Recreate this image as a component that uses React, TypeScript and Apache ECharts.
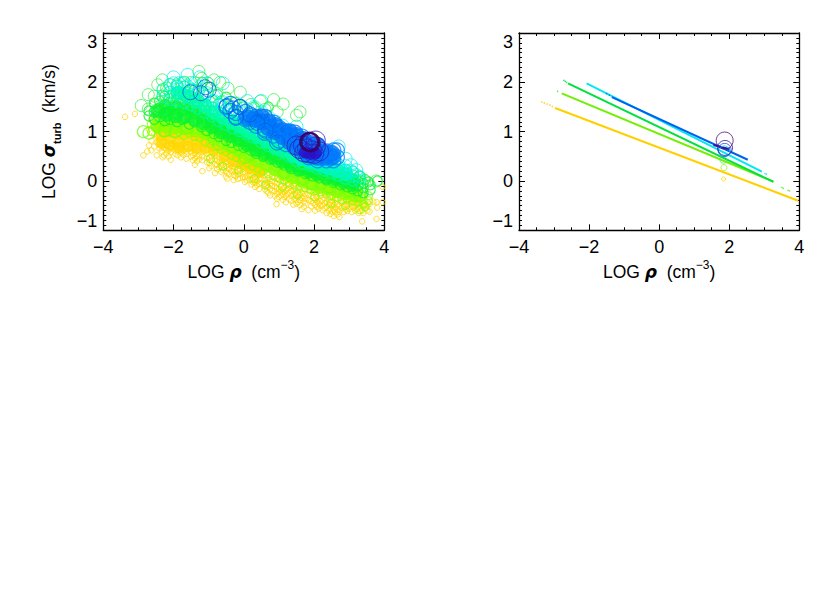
import React, { useEffect, useRef } from "react";
import * as echarts from "echarts";

// Each row: x followed by the y values read at that x
const yellowRings = [
[-3.38,1.3],[-3.1,1.36],[-2.86,.52],[-2.75,.6],[-2.63,.62,.82,1.25],[-2.55,.7,.95,1.1],[-2.48,.52,.78,.9,1.02],[-2.4,.66,.74,.86,1.12],[-2.34,.6,.7,.96,1.2],[-2.31,.48,.8],[-2.2,.56,.64,.72,.9,1.04],[-2.08,.43,.58,.66,.76],[-1.95,.55,.62,.7,.92],[-1.79,.48,.57,.64,.72],[-1.63,.45,.55,.6,.68],[-1.5,.5,.58,.66,1.0],[-1.39,.33,.46,.55,.62,.7],[-1.27,.44,.52,.6,.78],[-1.18,.2,.42,.5,.58,.66],[-1.05,.38,.47,.56,.64,.72],[-.92,.3,.42,.5,.58,.66],[-.82,.16,.34,.44,.52,.6],[-.7,.28,.38,.46,.54,.62],[-.6,.22,.32,.4,.5,.58],[-.51,.09,.2,.3,.38,.46,.54],
[-.42,.14,.24,.33,.42,.5],[-.33,.2,.29,.37,.46,.56],[-.24,.1,.18,.27,.34,.44],[-.11,.06,.15,.24,.31,.4,.5],[-.02,.08,.18,.26,.35,.44],[.08,.01,.1,.2,.28,.36],[.17,.03,.12,.21,.3,.39],[.27,-.03,.06,.14,.23,.33],[.38,-.09,0,.09,.19,.27],[.5,-.05,.04,.13,.22,.3],[.6,-.17,-.07,.02,.11,.2],[.7,-.24,-.12,-.03,.06,.16],[.8,-.19,-.1,0,.09,.18],[.88,-.3,-.21,-.11,-.02,.07],[.95,-.36,-.26,-.14,-.05,.04],[.93,-.47],
[1.05,-.29,-.2,-.1,-.01,.08],[1.15,-.32,-.22,-.13,-.04,.05],[1.24,-.27,-.17,-.08,.01],[1.35,-.4,-.3,-.2,-.11,-.02],[1.45,-.36,-.24,-.15,-.06,.02],[1.55,-.43,-.33,-.23,-.14,-.04],[1.65,-.57,-.34,-.25,-.16,-.07],[1.75,-.45,-.36,-.26,-.17,-.09],[1.84,-.59,-.38,-.28,-.19,-.1],[1.98,-.45,-.34,-.24,-.15,-.06],[2.08,-.52,-.42,-.33,-.23,-.14],[2.18,-.5,-.41,-.3,-.2,-.12],[2.3,-.55,-.45,-.35,-.26,-.17],[2.42,-.6,-.49,-.38,-.28,-.19],[2.52,-.62,-.5,-.4,-.3,-.22],[2.6,-.63,-.54,-.44,-.34,-.25],[2.67,-.68,-.58,-.47,-.37,-.27],[2.78,-.55,-.44,-.35,-.26],[2.9,-.58,-.48,-.38,-.29],[3.0,-.56,-.46,-.36],[3.12,-.54,-.45,-.37],[3.22,-.57,-.48,-.39],[3.32,-.53,-.44,-.36],[3.37,-.82,-.6],[3.4,-.65,-.5,-.41],[3.52,-.6,-.5,-.43],[3.69,-.42],[3.78,-.77,-.43],[3.8,-.54],[3.95,-.12,-.43]
];
const yellowExtra = [
[-2.7,.72,1.05],[-2.27,.52,.67],[-2.14,.5,.62],[-1.88,.52,.6],[-1.72,.53,.61],[-1.45,.42,.52],[-1.33,.4,.5],[-.98,.26,.36,.48],[-.76,.24,.33,.41],[-.64,.18,.3,.36],[-.47,.05,.16,.27],[-.29,.02,.12,.24],[-.17,.04,.13,.22],[.03,-.02,.07,.15],[.22,-.07,.02,.11],[.32,-.12,-.04,.08],[.44,-.16,-.06,.05],[.65,-.21,-.1,-.03],[.75,-.29,-.16,-.06],[1.0,-.32,-.23,-.16],[1.11,-.38,-.27,-.17],[1.2,-.43,-.3,-.19],[1.29,-.37,-.24,-.14],[1.41,-.48,-.27,-.18],[1.5,-.46,-.38,-.29],[1.6,-.49,-.39,-.28],[1.71,-.52,-.41,-.31],[1.92,-.51,-.41,-.31],[2.03,-.6,-.48,-.38],[2.13,-.56,-.46,-.37],[2.24,-.59,-.5,-.39],[2.36,-.65,-.52,-.42],[2.47,-.67,-.56,-.44],[2.56,-.71,-.58,-.48],[2.72,-.73,-.62,-.51],[2.84,-.63,-.52,-.41],[2.95,-.61,-.5,-.42],[3.07,-.63,-.51,-.41],[3.17,-.6,-.52,-.43],[3.27,-.65,-.52,-.42],[3.46,-.56,-.47],[3.58,-.62,-.47]
];
const yellowCore = [
[-2.35,.78,.92,1.06],[-2.1,.72,.86,1],[-1.85,.68,.8,.95],[-1.6,.7,.83,.96],[-1.35,.67,.8,.93],[-1.1,.66,.78,.9],[-.85,.62,.72],[-.55,.5,.62],[-.3,.4,.52],[-.05,.34,.42],[.2,.26,.32],[.45,.18,.22]
];
const limeRings = [
[-2.63,1.0,1.15],[-2.55,1.22],[-2.45,1.05,1.16,1.26],[-2.3,.98,1.08,1.2],[-2.15,1.0,1.14,1.26],[-2.0,.96,1.07,1.2],[-1.85,1.0,1.12,1.24],[-1.7,.92,1.05,1.18],[-1.55,.97,1.1,1.22],[-1.4,.9,1.02,1.14],[-1.25,.88,1.0,1.12],[-1.1,.8,.93,1.06],[-.95,.76,.88,1.0,1.1],[-.8,.7,.84,.96],[-.65,.64,.76,.88],[-.5,.6,.7,.82,.92],[-.35,.52,.63,.75,.88],[-.2,.48,.58,.7,.82],[-.05,.42,.54,.66,.77],[.1,.36,.48,.58,.7],[.25,.3,.42,.54,.66],[.4,.26,.38,.48,.6],[.55,.2,.32,.44,.54],[.7,.14,.26,.38,.48],[.85,.1,.22,.32,.42],[1.0,.06,.18,.28,.38],[1.15,.02,.12,.24,.34],[1.3,-.04,.08,.18,.3],[1.45,-.08,.04,.14,.24],[1.6,-.1,0,.1,.2],[1.75,-.14,-.04,.06,.16],[1.9,-.17,-.07,.03,.12],[2.05,-.2,-.1,0,.08],[2.2,-.22,-.12,-.03,.05],[2.35,-.26,-.16,-.06,.03],[2.5,-.3,-.2,-.1,-.01],[2.65,-.33,-.24,-.14,-.05],[2.8,-.38,-.28,-.18,-.08],[2.95,-.36,-.27,-.18,-.1],[3.1,-.4,-.3,-.22,-.13],[3.25,-.42,-.33,-.24,-.16],[3.4,-.47,-.38,-.3,-.2],[3.55,-.4,-.3],[3.45,-.52],
[-.95,.45],[-.6,.3],[-.15,.22],[.3,.05],[.62,-.08],[1.1,-.12],[1.52,-.28],[2.02,-.32],[2.48,-.45],[2.9,-.5],[3.3,-.58]
];
const limeLarge = [
[-2.86,1.0],[-2.7,.97],[-1.95,1.0],[-1.6,1.08],[-1.1,1.05],[-.85,.85],[-.4,.98],[-.3,.7],[.2,.55],[.55,.52],[.95,.32],[1.4,.2],[1.7,.05],[2.2,-.05],[2.7,-.15],[-2.25,1.02],[-.7,.75],[.05,.48],[1.15,.18],[1.95,-.05],[2.45,-.12],[3.0,-.2],[3.3,-.3]
];
const limeCore = [
[-2.45,1.12],[-2.2,1.12],[-1.95,1.1],[-1.7,1.08],[-1.4,1.04],[-1.1,.98],[-.85,.9],[-.6,.8],[-.35,.7],[-.1,.62],[.15,.52],[.4,.42],[.65,.34],[.9,.25],[1.15,.16],[1.4,.09],[1.65,.02],[1.9,-.04],[2.15,-.1],[2.4,-.15],[2.65,-.2],[2.9,-.24],[3.15,-.28]
];
const greenRings = [
[-2.7,1.42,1.32],[-2.55,1.25,1.4,1.58],[-2.4,1.3,1.48,1.62],[-2.25,1.22,1.38,1.55,1.72],[-2.1,1.25,1.42,1.6],[-1.9,1.2,1.35,1.52,1.68],[-1.75,1.25,1.42,1.6],[-1.55,1.15,1.3,1.47,1.63],[-1.4,1.2,1.36,1.52],[-1.2,1.1,1.25,1.42],[-1.05,1.02,1.17,1.33],[-.85,.96,1.1,1.25],[-.7,.9,1.04,1.18],[-.5,.82,.96,1.1],[-.35,.78,.9,1.02],[-.15,.72,.85,.98],[0,.68,.8,.94],[.2,.62,.74,.86],[.35,.56,.68,.8],[.55,.5,.62,.74],[.75,.44,.56,.68],[.95,.38,.5,.6],[1.15,.32,.42,.54],[1.35,.25,.36,.47],[1.55,.2,.3,.4],[1.75,.15,.24,.34],[1.95,.1,.2,.3],[2.15,.06,.15,.25],[2.35,.02,.11,.2],[2.55,-.03,.06,.16],[2.75,-.08,.02,.12],[2.95,-.12,-.02,.08],[3.1,-.16,-.06,.04],[3.25,-.2,-.1,0],[3.4,-.24,-.14,-.05],[3.6,-.18,-.08],[3.8,0],
[-1.65,1.72],[-1.4,1.85],[-1.18,2.0],[-.95,1.9],[-.75,1.75],[-.5,1.7],[-.25,1.6],[-.02,1.5],[.3,1.5],[.7,1.5],[3.3,.1],[3.45,.03],[3.55,-.02]
];
const greenLarge = [
[-2.92,1.53],[-2.72,1.46],[-2.72,1.75],[-2.45,1.95],[-2.32,2.05],[-2.1,1.7],[-1.9,1.95],[-1.5,2.0],[-.85,2.05],[-.68,2.0],[-.1,1.8],[.47,1.62],[.85,1.65],[1.12,1.56],[1.5,1.33],[1.6,1.4],[.6,1.45],[.95,1.4],[.2,1.55],[3.77,0],[-.65,1.6],[-.4,1.45],[-1.85,1.3],[-1.3,1.2],[.15,.9],[.5,.78],[1.0,.55],[1.6,.35],[2.3,.15],[2.9,.05],[-2.55,1.72],[-2.2,1.88],[-1.75,1.98],[-1.28,2.22],[-1.2,2.08],[-1.02,1.98],[-.45,1.88],[-2.5,1.55],[-2.0,1.75]
];
const greenCore = [
[-2.45,1.42],[-2.2,1.35,1.5],[-1.95,1.32,1.48],[-1.7,1.3,1.46],[-1.4,1.25,1.4],[-1.15,1.18,1.32],[-.9,1.1,1.22],[-.65,1.0,1.12],[-.4,.92,1.02],[-.15,.84,.94],[.1,.74,.84],[.35,.64,.74],[.6,.56,.66],[.85,.48,.56],[1.1,.4,.48],[1.35,.32,.4],[1.6,.25,.33],[1.85,.2,.27],[2.1,.14,.21],[2.35,.08,.16],[2.6,.04,.11],[2.85,-.02,.06],[3.1,-.07,0]
];
const tealRings = [
[-2.3,1.72,1.85],[-2.1,1.65,1.8,1.95],[-1.9,1.62,1.78,1.92],[-1.7,1.6,1.75,1.9,2.0],[-1.5,1.55,1.7,1.86],[-1.3,1.48,1.63,1.8],[-1.1,1.4,1.55,1.72],[-.9,1.32,1.48,1.62],[-.7,1.22,1.38,1.55],[-.5,1.15,1.3,1.45],[-.3,1.08,1.22,1.36],[-.1,1.02,1.15,1.28],[.1,.95,1.08,1.2],[.3,.88,1.0,1.12],[.5,.8,.92,1.05],[.7,.72,.84,.95],[.9,.65,.76,.86],[1.1,.58,.68,.78],[1.3,.5,.6,.7],[1.5,.42,.52,.62],[1.7,.36,.46,.56],[1.9,.32,.4,.5],[2.1,.26,.35,.44],[2.3,.22,.3,.38],[2.5,.17,.25,.34],[2.7,.12,.2,.28],[2.9,.06,.14,.22],[3.1,.02,.1,.18],[3.3,.0,.08]
];
const tealCore = [
[-1.85,1.78],[-1.6,1.72],[-1.35,1.62],[-1.1,1.52],[-.85,1.4],[-.6,1.29],[-.35,1.19],[-.1,1.1],[.15,1.0],[.4,.9],[.65,.8],[.9,.7],[1.15,.62],[1.4,.52],[1.65,.45],[1.9,.38],[2.15,.33],[2.4,.27],[2.65,.2],[2.9,.14]
];
const cyanRings = [
[-2.0,2.1,1.98],[-1.85,1.98,1.85],[-1.6,2.15,1.92],[-1.4,1.98,1.82],[-1.25,2.1,1.9],[-1.05,1.98,1.78],[-.85,1.72,1.62],[-.6,1.98,1.6,1.48],[-.35,1.58,1.44],[-.1,1.52,1.38],[.1,1.62,1.45],[.3,1.5,1.32],[.5,1.62,1.4,1.12],[.7,1.3,1.02],[.9,1.2,.92],[1.1,1.12,.85],[1.3,1.02,.75],[1.5,1.1,.68,.5],[1.7,.6,.44],[1.9,.53,.42],[2.1,.47,.36],[2.3,.42,.3],[2.5,.36,.26],[2.7,.7,.32,.22],[2.9,.45,.3,.18],[3.05,.32,.2],[3.2,.22,.12]
];
const blueCore = [
[.1,1.28],[.3,1.25],[.5,1.2,1.3],[.7,1.08,1.2],[.9,1.0,1.12],[1.1,.9,1.02],[1.3,.8,.92,1.0],[1.5,.7,.82,.92],[1.7,.6,.72,.84],[1.9,.52,.64,.76],[2.1,.48,.6,.72],[2.3,.48,.58],[2.5,.48,.56]
];
const blueRings = [
[-.5,1.5],[-.38,1.56,1.42],[-.22,1.38,1.28],[-.1,1.5],[.05,1.4,1.25],[.18,1.32,1.2],[.35,1.12,1.3],[.6,1.05,.98,1.3],[.85,.92,1.18],[1.0,.82,1.08],[1.2,.75,1.0],[1.45,.68,.9,.98],[1.65,.56,.9],[1.85,.48],[2.1,.42,.72],[2.35,.42,.6],[2.55,.42,.5,.62],[2.65,.48,.62]
];
const blueLarge = [
[-1.52,1.8],[-1.22,1.78],[-1.0,1.85],[-1.1,1.9],[-.48,1.52],[-.3,1.47],[-.12,1.5],[-.22,1.3],[.18,1.35],[.38,1.18],[.62,1.02],[.95,.78]
];
const violetRings = [
[1.5,.72],[1.58,.65],[1.68,.72],[1.72,.58],[1.8,.66],[1.85,.56],[1.95,.62],[2.0,.55],[2.05,.7],[2.15,.6],[2.05,.82]
];
const indigoCore = [[1.75,.58],[1.9,.55],[2.05,.56]];
const darkRing = [[1.85,.79],[1.88,.8],[1.91,.78]];

// Right panel: end points of the straight runs and their loose tails
const yellowLine = [[-2.97,1.48],[3.97,-.4]];
const yellowTail = [[-3.35,1.6],[-3.28,1.58],[-3.2,1.56],[-3.12,1.54],[-3.05,1.51]];
const limeLine = [[-2.78,1.775],[3.26,-.01]];
const limeTail = [[-2.9,1.82],[3.5,-.13],[3.54,-.15],[3.68,-.19],[3.72,-.2]];
const greenLine = [[-2.6,1.98],[3.26,-.02]];
const greenTail = [[-2.72,2.04],[-2.68,2.02],[-2.64,2.0]];
const cyanLine = [[-2.07,1.98],[2.93,.19]];
const cyanTail = [[3.02,.15],[3.06,.14]];
const blueLine = [[-1.35,1.7],[2.53,.43]];
const blueTail = [[-1.5,1.77],[-1.42,1.74]];
const indigoLine = [[1.55,.73],[2.02,.645]];
const meanCircles = [
  { value: [1.84, .04], size: 4, color: "#ffd700" },
  { value: [1.85, .27], size: 6, color: "#a0f020" },
  { value: [1.83, .43], size: 7, color: "#40f060" },
  { value: [1.86, .6], size: 11, color: "#00e0f0" },
  { value: [1.87, .63], size: 13, color: "#1050e0" },
  { value: [1.88, .67], size: 15, color: "#4018b0" },
  { value: [1.87, .82], size: 17, color: "#501070" },
];

const xTicks = [-4, -2, 0, 2, 4];
const FONT = "'Liberation Sans', Arial, sans-serif";
const expand = (rows: number[][]) =>
  rows.flatMap((r) => r.slice(1).map((y) => [r[0], y]));

const ring = (rows: number[][], color: string, size: number, z: number, width = 1.2) => ({
  type: "scatter", xAxisIndex: 0, yAxisIndex: 0, data: expand(rows), symbol: "circle", symbolSize: size,
  silent: true, z,
  itemStyle: { color: "transparent", borderColor: color, borderWidth: width },
});
const core = (rows: number[][], color: string, size: number, z: number) => ({
  type: "scatter", xAxisIndex: 0, yAxisIndex: 0, data: expand(rows), symbol: "circle", symbolSize: size,
  silent: true, z,
  itemStyle: { color },
});
const seg = (data: number[][], color: string, z: number) => ({
  type: "line", xAxisIndex: 2, yAxisIndex: 2, data, symbol: "none", silent: true, z,
  lineStyle: { color, width: 2 },
});
const tail = (data: number[][], color: string, z: number) => ({
  type: "scatter", xAxisIndex: 2, yAxisIndex: 2, data, symbol: "circle", symbolSize: 1.6, silent: true, z,
  itemStyle: { color },
});

const rich = {
  a: { fontSize: 17.5, fontFamily: FONT, color: "#000", lineHeight: 26 },
  g: { fontSize: 17, fontFamily: "'DejaVu Sans', sans-serif", fontWeight: "bold", fontStyle: "italic", color: "#000", lineHeight: 26 },
  sup: { fontSize: 12, fontFamily: FONT, color: "#000", verticalAlign: "top", lineHeight: 26, padding: [0, 0, 8, 0] },
  sub: { fontSize: 11, fontFamily: FONT, fontWeight: "bold", color: "#000", verticalAlign: "bottom", lineHeight: 26, padding: [7, 0, 0, 0] },
};

const xBase = (grid: number) => ({
  gridIndex: grid, type: "value", min: xTicks[0], max: xTicks[xTicks.length - 1], interval: 2,
  axisLine: { show: true, onZero: false, lineStyle: { color: "#000", width: 1.3 } },
  splitLine: { show: false },
  axisTick: { show: true, inside: true, length: 6, lineStyle: { color: "#000", width: 1 } },
  minorTick: { show: true, splitNumber: 4, length: 3, lineStyle: { color: "#000", width: 1 } },
});
const yBase = (grid: number) => ({
  gridIndex: grid, type: "value", min: -1, max: 3, interval: 1,
  axisLine: { show: true, onZero: false, lineStyle: { color: "#000", width: 1.3 } },
  splitLine: { show: false },
  axisTick: { show: true, inside: true, length: 6, lineStyle: { color: "#000", width: 1 } },
  minorTick: { show: true, splitNumber: 10, length: 3, lineStyle: { color: "#000", width: 1 } },
});
const xLabel = {
  show: true, fontSize: 18, fontFamily: FONT, color: "#000", margin: 8,
  formatter: (v: number) => String(v).replace("-", "\u2212"),
};
const yLabel = {
  show: true, fontSize: 18, fontFamily: FONT, color: "#000", margin: 6,
  verticalAlignMinLabel: "bottom", verticalAlignMaxLabel: "top",
  formatter: (v: number) => String(v).replace("-", "\u2212"),
};
const xName = "{a|LOG }{g|\u03c1}{a|  (cm}{sup|\u22123}{a|)}";
const yName = "{a|LOG }{g|\u03c3}{sub|turb}{a|  (km/s)}";

export default function App() {
  const ref = useRef<HTMLDivElement>(null);
  useEffect(() => {
    const chart = echarts.init(ref.current!, undefined, { renderer: "svg" });
    chart.setOption({
      animation: false,
      backgroundColor: "#fff",
      grid: [
        { left: 103.3, top: 33, width: 281, height: 197.3 },
        { left: 519, top: 33, width: 280.3, height: 197.3 },
      ],
      xAxis: [
        { ...xBase(0), position: "bottom", axisLabel: xLabel, name: xName, nameLocation: "middle", nameGap: 29,
          nameTextStyle: { rich } },
        { ...xBase(0), position: "top", axisLabel: { show: false } },
        { ...xBase(1), position: "bottom", axisLabel: xLabel, name: xName, nameLocation: "middle", nameGap: 29,
          nameTextStyle: { rich } },
        { ...xBase(1), position: "top", axisLabel: { show: false } },
      ],
      yAxis: [
        { ...yBase(0), position: "left", axisLabel: yLabel, name: yName, nameLocation: "middle", nameGap: 41,
          nameRotate: 90, nameTextStyle: { rich } },
        { ...yBase(0), position: "right", axisLabel: { show: false } },
        { ...yBase(1), position: "left", axisLabel: yLabel },
        { ...yBase(1), position: "right", axisLabel: { show: false } },
      ],
      series: [
        core(yellowCore, "#ffd700", 12, 2),
        ring(yellowRings, "#ffd700", 5.5, 3, 1),
        ring(yellowExtra, "#ffd700", 5.5, 3, 1),
        core(limeCore, "#80ff00", 15, 4),
        ring(limeRings, "#90ff00", 8, 5),
        ring(limeLarge, "#70ff10", 12, 5),
        core(greenCore, "#00f830", 15, 6),
        ring(greenRings, "#10f030", 10, 7),
        ring(greenLarge, "#30f040", 12, 7, 0.9),
        core(tealCore, "#00ffa8", 15, 8),
        ring(tealRings, "#00f8a8", 12, 9),
        ring(cyanRings, "#00f0f0", 13, 10, 0.9),
        core(blueCore, "#0070f8", 17, 11),
        ring(blueRings, "#0080ff", 15, 12),
        ring(blueLarge, "#0060e0", 15, 13, 1),
        ring(violetRings, "#3020c0", 19, 14, 1),
        core(indigoCore, "#2810c8", 12, 15),
        ring(darkRing, "#3a0060", 18, 16, 1.6),
        tail(yellowTail, "#ffd000", 2), seg(yellowLine, "#ffd000", 2),
        tail(limeTail, "#50e810", 3), seg(limeLine, "#70f000", 3),
        tail(greenTail, "#00e040", 4), seg(greenLine, "#00e040", 4),
        tail(cyanTail, "#00e8f0", 5), seg(cyanLine, "#00e8f0", 5),
        tail(blueTail, "#0060f0", 6), seg(blueLine, "#0060f0", 6),
        seg(indigoLine, "#3a10a0", 7),
        {
          type: "scatter", xAxisIndex: 2, yAxisIndex: 2, silent: true, z: 8, symbol: "circle",
          data: meanCircles.map((c) => ({
            value: c.value, symbolSize: c.size,
            itemStyle: { color: "transparent", borderColor: c.color, borderWidth: 1 },
          })),
        },
      ],
    });
    return () => chart.dispose();
  }, []);
  return <div ref={ref} style={{ position: "absolute", left: 0, top: 0, width: 830, height: 593 }} />;
}
